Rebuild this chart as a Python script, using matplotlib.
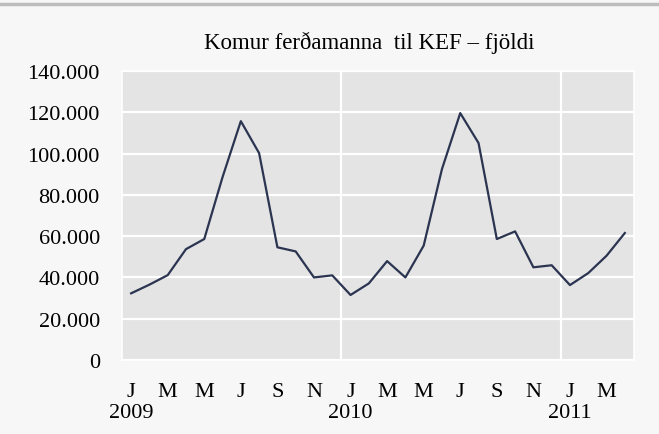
import matplotlib.pyplot as plt
from matplotlib.ticker import FuncFormatter
from matplotlib.lines import Line2D

# monthly arrivals, Jan 2009 - Apr 2011
months = ["J", "F", "M", "A", "M", "J", "J", "A", "S", "O", "N", "D"] * 2 + ["J", "F", "M", "A"]
years = ["2009", "2010", "2011"]
arrivals = [
    32300, 36500, 41100, 53700, 58600, 88600, 115700, 100200, 54600, 52600, 40000, 41000,
    31500, 37100, 47900, 40000, 55400, 92500, 119600, 105100, 58600, 62300, 44900, 45900,
    36300, 42100, 50500, 61500,
]

plt.rcParams["font.family"] = ["Liberation Serif", "DejaVu Serif"]

fig = plt.figure(figsize=(6.59, 4.35), dpi=100, facecolor="#f7f7f7")
ax = fig.add_axes([0.1851, 0.1701, 0.962 - 0.1851, 0.8345 - 0.1701])
ax.set_facecolor("#e4e4e4")

x = list(range(len(arrivals)))
ax.set_xlim(-0.5, len(arrivals) - 0.5)
ax.set_ylim(0, 140000)

ax.set_yticks(range(0, 140001, 20000))
ax.yaxis.set_major_formatter(FuncFormatter(lambda v, p: f"{int(v):,}".replace(",", ".")))
ax.grid(axis="y", color="white", linewidth=1.6)
for i in x:
    if i > 0 and months[i] == "J" and months[i - 1] == "D":
        ax.axvline(i - 0.5, color="white", linewidth=1.6)
ax.set_axisbelow(True)

ax.plot(x, arrivals, color="#2b3450", linewidth=1.6, zorder=3)

labels = []
year_iter = iter(years)
for i in x[::2]:
    if i % 12 == 0:
        labels.append(months[i] + "\n" + next(year_iter))
    else:
        labels.append(months[i])
ax.set_xticks(x[::2])
ax.set_xticklabels(labels, fontsize=16, linespacing=1.2, va="top")
ax.tick_params(axis="x", length=0, pad=15.5)
ax.tick_params(axis="y", length=0, pad=16, labelsize=16)

for s in ax.spines.values():
    s.set_color("white")
    s.set_linewidth(1.2)

fig.text(0.56, 0.901, "Komur ferðamanna  til KEF – fjöldi", ha="center", va="center", fontsize=16.5)
fig.add_artist(Line2D([0, 1], [0.989, 0.989], color="#bdbdbd", linewidth=2.5, transform=fig.transFigure))

fig.savefig("out.png", dpi=100, facecolor=fig.get_facecolor())
